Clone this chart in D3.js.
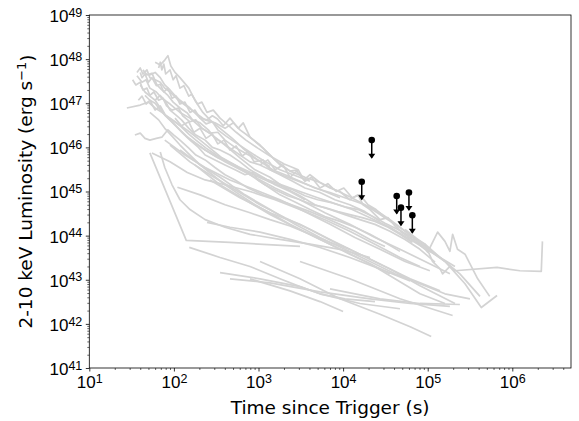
<!DOCTYPE html>
<html lang="en">
<head>
  <meta charset="UTF-8" />
  <title>X-ray afterglow luminosity</title>
  <script src="https://d3js.org/d3.v7.min.js"></script>
  <style>
    body { margin: 0; background: white; }
    svg { display: block; background: white; font-family: "DejaVu Sans", sans-serif; }
    .curve { fill: none; stroke: #d3d3d3; stroke-width: 1.7px; stroke-linejoin: round; }
    .axis text { font-size: 17px; fill: black; }
    .axis line { stroke: black; stroke-width: 0.8px; }
    .minor line { stroke-width: 0.6px; }
    .axis-label { font-size: 18.5px; fill: black; }
  </style>
</head>
<body>
  <svg width="579" height="421"></svg>
  <script>
    // light curves: [time since trigger (s), 2-10 keV luminosity (erg/s)]
    const curveA1 = [[36.6,5.0e47],[40,6.3e47],[43,4.6e47],[48,5.7e47],[52,3.8e47],[60,3.4e47],[69,3.0e47],[78,2.2e47],[90,1.8e47],[113,1.17e47],[135,9.1e46],[177,6.2e46],[234,4.2e46],[306,3.6e46],[402,2.7e46],[505,3.6e46],[604,2.5e46],[794,1.7e46],[1130,9.6e45],[1567,5.2e45],[2356,2.9e45],[3543,2.1e45],[5330,1.6e45],[8000,1.1e45],[1.2e4,7.6e44],[1.81e4,5.0e44],[2.73e4,3.0e44],[4.1e4,1.8e44],[6.2e4,1.07e44],[9.3e4,6.4e43],[1.14e5,2.6e43],[1.4e5,1.76e43],[1.5e5,1.36e43],[1.83e5,2.0e43],[2.1e5,1.6e43],[6.6e5,1.9e43],[1.23e6,1.6e43],[2.2e6,1.55e43],[2.27e6,7.4e43]];
    const curveA2 = [[60,8.5e47],[69,7.4e47],[78,9.5e47],[85,1.2e48],[92,7e47],[103,5.0e47],[118,3.8e47],[150,2.2e47],[177,1.17e47],[220,6.2e46],[267,4.2e46],[351,2.7e46],[490,1.6e46],[692,8.7e45],[980,5.2e45],[1470,3.1e45],[2057,2.4e45],[3093,1.7e45],[4650,1.2e45],[7000,9.5e44],[1.05e4,7.2e44],[1.58e4,5.5e44],[2.38e4,3.9e44],[3.58e4,2.3e44],[4.7e4,1.55e44],[7.1e4,8.2e43],[1.06e5,4.9e43],[1.6e5,2.6e43]];
    const curveA3 = [[36.6,4.2e47],[42,3.0e47],[47,3.4e47],[52,2.2e47],[62,1.8e47],[72,1.3e47],[90,9.6e46],[118,6.2e46],[155,4.6e46],[204,2.9e46],[285,1.9e46],[402,1.13e46],[604,5.8e45],[910,3.1e45],[1368,2.1e45],[2057,1.2e45],[3093,8.0e44],[4650,5.0e44],[7000,3.9e44],[1.05e4,3.0e44],[1.58e4,2.3e44],[2.38e4,1.8e44],[3.58e4,1.25e44],[5.4e4,8.2e43],[8.1e4,4.9e43],[1.22e5,2.5e43]];
    const curveA4 = [[27.8,7.8e46],[40,9.1e46],[50,1.06e47],[60,7.8e46],[72,6.2e46],[90,4.6e46],[118,3.2e46],[155,2.2e46],[204,1.46e46],[267,9.6e45],[370,5.8e45],[528,4.0e45],[794,2.4e45],[1194,1.42e45],[1795,8.4e44],[2700,5.8e44],[4060,3.9e44],[6100,2.7e44],[9180,2.1e44],[1.38e4,1.55e44],[2.08e4,1.07e44],[3.13e4,7.0e43],[4.7e4,4.4e43]];
    const curveA5 = [[34.6,1.9e46],[40,2.1e46],[45.5,1.6e46],[52,1.46e46],[62,1.6e46],[72,1.7e46],[85,2.5e46],[100,1.9e46],[118,1.46e46],[150,9.6e45],[182,6.7e45],[234,5.2e45],[306,3.5e45],[402,2.4e45],[528,1.83e45],[750,1.2e45],[1130,8.4e44],[1700,6.5e44],[2700,4.7e44],[4060,3.5e44],[6100,2.55e44],[9180,1.8e44],[1.38e4,1.25e44],[2.08e4,8.2e43],[3.13e4,5.7e43]];
    const curveA6 = [[40,2.6e47],[45.5,1.8e47],[52,1.45e47],[60,1.17e47],[69,7.8e46],[78,5.4e46],[95,3.8e46],[118,2.5e46],[150,1.6e46],[177,1.25e46],[234,8.7e45],[330,5.8e45],[460,4.5e45],[640,3.1e45],[910,2.3e45],[1290,1.7e45],[1795,1.35e45],[2530,1.1e45],[3543,8.0e44],[5000,6.5e44],[7500,5.5e44],[1.05e4,4.5e44],[1.5e4,3.9e44],[2.25e4,2.7e44],[3.13e4,1.9e44],[4.45e4,1.38e44],[6.6e4,9.1e43],[9.3e4,6.4e43],[1.4e5,3.2e43],[2.1e5,2.0e43]];
    const curveA7 = [[52,4.4e47],[60,5.0e47],[69,3.8e47],[78,2.6e47],[90,2.0e47],[103,1.5e47],[118,1.17e47],[155,7.8e46],[204,4.6e46],[246,4.2e46],[285,5.2e46],[328,4.4e46],[384,3.1e46],[460,4.6e46],[575,2.7e46],[660,3.6e46],[794,1.7e46],[1042,1.13e46],[1368,6.7e45],[1795,4.0e45],[2356,2.9e45],[2950,3.1e45],[3450,1.83e45],[4060,2.4e45],[5330,1.6e45],[7000,1.2e45],[9180,1.0e45],[1.2e4,6.5e44],[1.5e4,8.4e44],[1.72e4,5.0e44],[2.08e4,3.9e44],[2.73e4,2.3e44],[3.4e4,2.55e44],[4.1e4,1.65e44],[5.4e4,1.07e44],[7.1e4,7.4e43],[9.3e4,4.9e43]];
    const curveA8 = [[45.5,1.5e47],[52,1.17e47],[60,1.0e47],[69,7.0e46],[85,4.6e46],[103,3.2e46],[127,2.1e46],[155,1.46e46],[195,1.0e46],[234,6.7e45],[306,5.2e45],[402,4.0e45],[528,3.1e45],[692,2.4e45],[860,2.7e45],[980,1.83e45],[1194,1.42e45],[1567,1.1e45],[2220,8.0e44],[3093,6.5e44],[4400,5.0e44],[6100,4.3e44],[8700,3.5e44],[1.2e4,3.0e44],[1.68e4,2.55e44],[2.38e4,2.1e44],[3.4e4,1.55e44],[4.7e4,1.07e44],[6.6e4,7.0e43]];
    const curveA9 = [[43,5.7e47],[48,4.4e47],[55,4.8e47],[63,2.6e47],[72,2.0e47],[85,1.5e47],[98,1.06e47],[118,7.8e46],[144,6.0e46],[166,4.2e46],[204,3.6e46],[255,2.5e46],[306,1.6e46],[370,1.3e46],[460,9.6e45],[604,6.7e45],[794,4.7e45],[1042,4.0e45],[1368,3.1e45],[1950,2.3e45],[2700,1.83e45],[4060,1.35e45],[6100,1.0e45],[9180,7.2e44]];
    const curveA10 = [[60,1.17e47],[69,1.5e47],[78,1.17e47],[90,7.0e46],[106,5.4e46],[123,4.2e46],[150,2.7e46],[182,1.9e46],[234,1.46e46],[285,1.0e46],[351,8.7e45],[460,6.7e45],[604,4.7e45],[794,3.1e45],[1130,2.1e45],[1567,1.42e45],[2356,1.0e45],[3543,6.5e44]];
    const curveC1 = [[32.5,3.4e47],[35.5,2.6e47],[40,3.0e47],[43,2.0e47],[48,2.2e47],[52,1.5e47],[58,1.8e47],[66,1.17e47],[74,1.3e47],[82,8.7e46],[95,7.0e46],[113,7.8e46],[127,5.2e46],[155,3.8e46],[182,4.2e46],[214,2.7e46],[267,2.1e46],[330,2.2e46],[402,1.46e46],[528,1.0e46],[692,7.5e45],[980,5.2e45],[1368,3.7e45]];
    const curveC2 = [[40,5.0e47],[42,3.8e47],[45.5,4.6e47],[50,3.0e47],[55,3.8e47],[62,2.5e47],[69,2.7e47],[76,1.8e47],[85,2.2e47],[95,1.3e47],[106,1.45e47],[118,9.6e46],[135,1.06e47],[155,6.2e46],[177,7.0e46],[204,4.6e46],[240,3.4e46],[285,3.8e46],[330,2.5e46],[414,1.8e46],[515,1.35e46],[675,9.6e45],[935,6.4e45],[1290,4.4e45],[1795,3.1e45],[2700,2.3e45],[4060,1.7e45]];
    const curveC3 = [[66,6.3e47],[69,8.5e47],[72,5.7e47],[76,7.7e47],[80,4.6e47],[90,5.7e47],[98,3.4e47],[106,4.2e47],[118,2.2e47],[131,2.5e47],[150,1.45e47],[162,1.6e47],[190,9.6e46],[214,1.06e47],[246,6.2e46],[292,7.0e46],[351,4.6e46],[437,3.2e46],[545,2.2e46],[710,1.46e46],[980,9.6e45],[1368,6.4e45],[2010,4.2e45],[2950,3.1e45]];
    const curveC4 = [[103,4.6e46],[123,3.1e46],[150,3.8e46],[172,2.2e46],[204,2.7e46],[240,1.6e46],[285,2.0e46],[330,1.2e46],[392,1.46e46],[460,8.7e45],[545,1.07e46],[640,6.4e45],[750,7.9e45],[890,4.7e45],[1130,5.2e45],[1368,3.1e45],[1795,2.4e45],[2530,1.7e45],[3543,1.2e45],[5330,9.5e44],[8000,6.5e44],[1.2e4,5.0e44],[1.81e4,3.5e44],[2.73e4,2.1e44]];
    const curveC5 = [[38,1.17e47],[42,1.45e47],[47,9.6e46],[52,1.17e47],[60,7.0e46],[69,8.7e46],[80,5.2e46],[95,4.2e46],[118,3.1e46],[150,2.0e46],[182,1.46e46],[240,9.6e45],[316,6.7e45],[437,4.7e45],[604,3.5e45],[890,2.5e45],[1290,1.83e45],[2010,1.35e45],[3093,1.0e45],[5000,7.2e44],[8000,5.3e44],[1.28e4,3.9e44],[2.08e4,2.55e44],[3.58e4,1.55e44],[6.2e4,8.2e43]];
    const curveC6 = [[52,6.2e46],[66,4.2e46],[78,2.7e46],[95,1.8e46],[118,1.13e46],[155,6.7e45],[204,4.0e45],[285,2.4e45],[402,1.42e45],[604,8.4e44],[910,5.0e44],[1470,3.0e44],[2356,1.8e44],[4060,1.07e44],[7000,7.0e43],[1.2e4,4.9e43]];
    const curveC7 = [[1042,4.0e45],[1290,5.2e45],[1567,3.1e45],[1950,4.0e45],[2356,2.1e45],[2830,2.9e45],[3543,1.7e45],[4230,2.1e45],[5330,1.2e45],[6600,1.5e45],[8300,1.0e45],[1.02e4,1.2e45],[1.28e4,7.2e44],[1.58e4,8.4e44],[1.97e4,5.0e44],[2.45e4,3.9e44],[3.13e4,2.55e44]];
    const curveB1 = [[52,7.5e45],[140,7.8e43],[460,7.0e43],[3093,5.7e43]];
    const curveB2 = [[55,7.5e45],[90,4.7e45],[144,2.7e45],[234,1.83e45],[402,1.42e45],[794,1.0e45],[1567,6.5e44],[3093,3.9e44],[6100,2.3e44],[1.2e4,1.25e44],[2.38e4,6.4e43],[4.7e4,3.2e43],[8.1e4,2.0e43]];
    const curveB3 = [[69,7.9e45],[78,3.5e45],[95,1.42e45],[118,6.5e44],[155,3.9e44],[234,2.3e44],[402,1.55e44],[794,1.07e44],[1795,8.2e43],[4060,6.4e43],[9180,4.9e43],[2.08e4,3.2e43]];
    const curveB4 = [[110,1.25e45],[204,8.4e44],[402,5.0e44],[794,3.3e44],[1368,2.3e44],[2356,1.65e44],[4060,1.07e44],[7000,6.4e43],[1.2e4,3.8e43],[2.08e4,2.3e43],[3.58e4,1.36e43]];
    const curveB5 = [[246,2.0e44],[460,1.55e44],[1042,1.2e44],[2356,8.2e43],[5330,5.4e43],[1.2e4,3.2e43],[2.73e4,1.76e43],[6.2e4,9.4e42]];
    const curveB6 = [[152,5.4e43],[351,3.2e43],[794,2.0e43],[1795,1.05e43],[3093,7e42],[5330,4.8e42],[1.05e4,3.7e42],[2.38e4,3.2e42]];
    const curveB7 = [[351,1.45e43],[1042,1.05e43],[3093,7e42],[5330,4.8e42],[1.58e4,2.9e42],[4.7e4,2.2e42]];
    const curveB8 = [[460,1.05e43],[1368,8.5e42],[5330,5.3e42],[2.08e4,3.7e42],[6.2e4,2.9e42],[1.83e5,2.5e42]];
    const curveB9 = [[1042,2.6e43],[3093,1.05e43],[9180,3.7e42],[2.73e4,1.65e42],[6.2e4,8.6e41],[1.1e5,5.2e41]];
    const curveB10 = [[794,1.05e43],[2356,5.6e42],[5330,3.2e42],[1e4,1.9e42]];
    const curveB11 = [[78,1.46e46],[135,6.7e45],[234,3.5e45],[460,1.83e45],[910,1.1e45],[1795,6.5e44],[3543,3.5e44],[7000,1.8e44],[1.38e4,9.1e43],[2.73e4,4.9e43],[5.4e4,2.6e43],[1.06e5,1.6e43]];
    const curveB12 = [[90,1.13e46],[155,4.7e45],[267,2.4e45],[528,1.1e45],[1042,5.0e44],[2057,2.55e44],[4060,1.38e44],[8000,7.0e43],[1.58e4,3.8e43],[3.13e4,2.0e43],[6.2e4,1.05e43],[1.4e5,5.6e42]];
    const curveB13 = [[118,8.7e45],[204,4.0e45],[351,2.1e45],[692,8.4e44],[1368,3.9e44],[2700,1.8e44],[5330,9.1e43],[1.05e4,4.9e43],[2.08e4,2.6e43],[4.1e4,1.36e43],[8.1e4,8.1e42],[1.6e5,4.8e42],[3.16e5,3.7e42]];
    const curveB14 = [[177,4.0e45],[351,1.42e45],[692,6.5e44],[1368,3.0e44],[2700,1.55e44],[5330,8.2e43],[1.05e4,4.4e43],[2.08e4,2.3e43],[4.1e4,1.05e43],[8.1e4,4.8e42],[1.6e5,2.9e42]];
    const curveB15 = [[267,1.83e45],[604,7.2e44],[1368,3.3e44],[3093,1.8e44],[7000,8.2e43],[1.58e4,3.8e43],[3.58e4,1.76e43],[8.1e4,7.3e42],[2.1e5,2.9e42]];
    const curveB16 = [[135,1.9e46],[234,8.7e45],[402,4.7e45],[794,2.4e45],[1567,1.2e45],[3093,6.5e44],[6100,3.3e44],[1.2e4,1.8e44],[2.38e4,9.1e43],[4.7e4,4.9e43],[9.3e4,2.6e43],[1.83e5,1.36e43]];
    const curveB17 = [[3093,2.6e43],[1.2e4,1.05e43],[4.7e4,3.7e42],[1.97e5,1.55e42]];
    const curveB18 = [[7000,6.2e42],[2.73e4,3.7e42],[8.1e4,2.9e42],[2.4e5,2.75e42]];
    const curveR1 = [[4.7e4,1.25e44],[8.1e4,6.4e43],[1.6e5,2.6e43],[2.76e5,8.1e42],[4.3e5,2.35e42],[6.6e5,4.4e42]];
    const curveR2 = [[6.2e4,8.2e43],[1.4e5,3.2e43],[2.4e5,1.36e43],[4.15e5,4.2e42]];
    const curveR3 = [[5.4e4,1.38e44],[7.1e4,9.1e43],[1e5,4.2e43],[1.31e5,1.2e44],[1.6e5,7.4e43],[1.83e5,4.4e43],[1.97e5,1.07e44],[2.25e5,4.9e43],[2.76e5,3.8e43],[3.9e5,1.05e43],[5.4e5,4.2e42]];

    const curves = [curveA1, curveA2, curveA3, curveA4, curveA5, curveA6, curveA7, curveA8, curveA9, curveA10,
                    curveC1, curveC2, curveC3, curveC4, curveC5, curveC6, curveC7,
                    curveB1, curveB2, curveB3, curveB4, curveB5, curveB6, curveB7, curveB8, curveB9, curveB10,
                    curveB11, curveB12, curveB13, curveB14, curveB15, curveB16, curveB17, curveB18,
                    curveR1, curveR2, curveR3];

    // upper limits (black points with down arrows)
    const ulTime = [1.66e4, 2.18e4, 4.3e4, 4.83e4, 6.0e4, 6.58e4];
    const ulLum  = [1.66e45, 1.46e46, 7.9e44, 4.3e44, 9.5e44, 2.9e44];

    // tick labels (powers of ten)
    const xTickExp = [1, 2, 3, 4, 5, 6];
    const yTickExp = [41, 42, 43, 44, 45, 46, 47, 48, 49];

    const svg = d3.select("svg"),
          margin = { top: 15, right: 8, bottom: 53, left: 89.3 },
          width = +svg.attr("width"),
          height = +svg.attr("height");

    const x = d3.scaleLog()
      .domain([10, 4.94e6])
      .range([margin.left, width - margin.right]);

    const y = d3.scaleLog()
      .domain([1e41, 1e49])
      .range([height - margin.bottom, margin.top]);

    const line = d3.line()
      .x(d => x(d[0]))
      .y(d => y(d[1]));

    svg.append("g")
      .selectAll("path")
      .data(curves)
      .join("path")
      .attr("class", "curve")
      .attr("d", line);

    // minor ticks
    const minorX = [], minorY = [];
    xTickExp.forEach(e => { for (let k = 2; k <= 9; k++) { const v = k * Math.pow(10, e); if (v <= x.domain()[1]) minorX.push(v); } });
    yTickExp.slice(0, -1).forEach(e => { for (let k = 2; k <= 9; k++) minorY.push(k * Math.pow(10, e)); });

    svg.append("g")
      .attr("class", "axis minor")
      .attr("transform", `translate(0,${height - margin.bottom})`)
      .call(d3.axisBottom(x).tickValues(minorX).tickSize(2).tickFormat(""))
      .call(g => g.select(".domain").remove());

    svg.append("g")
      .attr("class", "axis minor")
      .attr("transform", `translate(${margin.left},0)`)
      .call(d3.axisLeft(y).tickValues(minorY).tickSize(2).tickFormat(""))
      .call(g => g.select(".domain").remove());

    // major ticks with 10^n labels
    function powLabel(sel, exps) {
      sel.selectAll(".tick text").each(function(d, i) {
        const t = d3.select(this).text(null);
        t.append("tspan").text("10");
        t.append("tspan").attr("dy", "-0.42em").style("font-size", "12.5px").text(exps[i]);
      });
    }

    const xAxis = svg.append("g")
      .attr("class", "axis")
      .attr("transform", `translate(0,${height - margin.bottom})`)
      .call(d3.axisBottom(x).tickValues(xTickExp.map(e => Math.pow(10, e))).tickSize(3.5).tickPadding(4.5))
      .call(g => g.select(".domain").remove());
    powLabel(xAxis, xTickExp);

    const yAxis = svg.append("g")
      .attr("class", "axis")
      .attr("transform", `translate(${margin.left},0)`)
      .call(d3.axisLeft(y).tickValues(yTickExp.map(e => Math.pow(10, e))).tickSize(3.5).tickPadding(3.5))
      .call(g => g.select(".domain").remove());
    powLabel(yAxis, yTickExp);
    yAxis.selectAll(".tick text").attr("dy", "0.38em");

    // frame
    svg.append("rect")
      .attr("x", margin.left)
      .attr("y", margin.top)
      .attr("width", width - margin.right - margin.left)
      .attr("height", height - margin.bottom - margin.top)
      .attr("fill", "none")
      .attr("stroke", "black")
      .attr("stroke-width", 0.8);

    // upper limits
    const ul = ulTime.map((t, i) => ({ t: t, L: ulLum[i] }));
    const ulG = svg.append("g");
    ulG.selectAll("line")
      .data(ul)
      .join("line")
      .attr("x1", d => x(d.t))
      .attr("x2", d => x(d.t))
      .attr("y1", d => y(d.L))
      .attr("y2", d => y(d.L * 0.4))
      .attr("stroke", "black")
      .attr("stroke-width", 1.5);
    ulG.selectAll("path")
      .data(ul)
      .join("path")
      .attr("d", d => {
        const cx = x(d.t), cy = y(d.L * 0.4);
        return `M${cx - 3.5},${cy - 4}L${cx + 3.5},${cy - 4}L${cx},${cy + 1}Z`;
      })
      .attr("fill", "black");
    ulG.selectAll("circle")
      .data(ul)
      .join("circle")
      .attr("cx", d => x(d.t))
      .attr("cy", d => y(d.L))
      .attr("r", 3.3)
      .attr("fill", "black");

    // axis labels
    svg.append("text")
      .attr("class", "axis-label")
      .attr("x", (margin.left + width - margin.right) / 2)
      .attr("y", 413.5)
      .attr("text-anchor", "middle")
      .text("Time since Trigger (s)");

    const yl = svg.append("text")
      .attr("class", "axis-label")
      .attr("transform", `translate(32,${(margin.top + height - margin.bottom) / 2}) rotate(-90)`)
      .attr("text-anchor", "middle");
    yl.append("tspan").text("2-10 keV Luminosity (erg s");
    yl.append("tspan").attr("dy", "-0.45em").style("font-size", "13px").text("\u22121");
    yl.append("tspan").attr("dy", "0.45em").text(")");
  </script>
</body>
</html>
